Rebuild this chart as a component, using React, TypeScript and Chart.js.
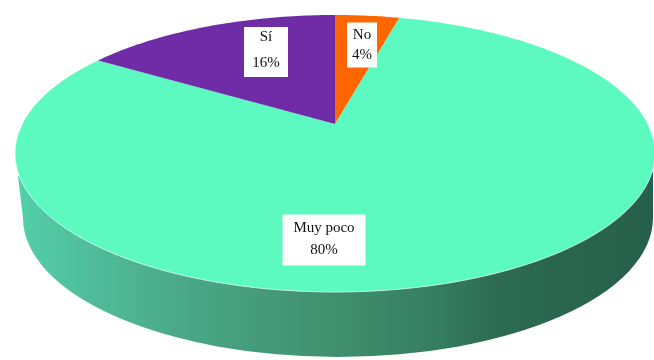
import React, { useEffect, useRef } from "react";
import { Chart, registerables } from "chart.js";

Chart.register(...registerables);

const categories = ["No", "Muy poco", "Sí"];
const shares = [4, 80, 16];
const sliceColors = ["#ff6600", "#5cf9c1", "#6f2ca6"];

// Perspective model of the tilted disc, in canvas pixels.
const APEX_X = 335;
const APEX_Y = 124;
const SPREAD_X = 312.6;
const SPREAD_Y = 132.2;
const TILT = 0.213;

// Front wall of the disc.
const FLOOR = { cx: 338, cy: 218, rx: 315, ry: 139 };
const WALL_STOPS: [number, string][] = [
  [0, "#52d0aa"],
  [0.13, "#50bb98"],
  [0.29, "#48a585"],
  [0.495, "#40906f"],
  [0.65, "#367f63"],
  [0.76, "#2c6a52"],
  [1, "#27604a"],
];

// Caption boxes: centre, size, line spacing and text offset from the centre.
const CAPTIONS = [
  { x: 362, y: 45, w: 30, h: 45, gap: 20, dy: 0 },
  { x: 324, y: 240, w: 83, h: 51, gap: 22, dy: -1 },
  { x: 266, y: 52, w: 44, h: 50, gap: 26, dy: -2 },
];

function project(u: number, v: number) {
  const d = 1 + TILT * v;
  return { x: APEX_X + (SPREAD_X * u) / d, y: APEX_Y - (SPREAD_Y * v) / d };
}

const tiltedPie = {
  id: "tiltedPie",
  beforeDatasetDraw(chart: any, args: any) {
    const ctx = chart.ctx as CanvasRenderingContext2D;
    const arcs = args.meta.data;

    // Wall: the floor ellipse plus the band joining it to the disc's widest points.
    const wall = ctx.createLinearGradient(15, 0, 653, 0);
    WALL_STOPS.forEach(([at, color]) => wall.addColorStop(at, color));
    ctx.save();
    ctx.fillStyle = wall;
    ctx.beginPath();
    ctx.moveTo(18, 176);
    ctx.lineTo(FLOOR.cx - FLOOR.rx, FLOOR.cy);
    ctx.ellipse(FLOOR.cx, FLOOR.cy, FLOOR.rx, FLOOR.ry, 0, Math.PI, 0, true);
    ctx.lineTo(653, 172);
    ctx.closePath();
    ctx.fill();

    // Top face: each slice follows its arc's angles through the perspective map.
    arcs.forEach((arc: any) => {
      ctx.beginPath();
      ctx.moveTo(APEX_X, APEX_Y);
      const steps = Math.max(8, Math.ceil((arc.endAngle - arc.startAngle) * 60));
      for (let i = 0; i <= steps; i++) {
        const a = arc.startAngle + ((arc.endAngle - arc.startAngle) * i) / steps;
        const p = project(Math.cos(a), -Math.sin(a));
        ctx.lineTo(p.x, p.y);
      }
      ctx.closePath();
      ctx.fillStyle = arc.options.backgroundColor;
      ctx.fill();
    });

    // Pale highlight along the front rim.
    ctx.beginPath();
    for (let i = 0; i <= 180; i++) {
      const a = (Math.PI * i) / 180;
      const p = project(Math.cos(a), -Math.sin(a));
      if (i === 0) ctx.moveTo(p.x, p.y);
      else ctx.lineTo(p.x, p.y);
    }
    ctx.strokeStyle = "rgba(215,255,242,0.85)";
    ctx.lineWidth = 1;
    ctx.stroke();
    ctx.restore();
    return false;
  },
  afterDatasetsDraw(chart: any) {
    const ctx = chart.ctx as CanvasRenderingContext2D;
    ctx.save();
    ctx.textAlign = "center";
    ctx.textBaseline = "middle";
    ctx.font = "15px 'Liberation Serif'";
    CAPTIONS.forEach((box, i) => {
      ctx.fillStyle = "#ffffff";
      ctx.fillRect(box.x - box.w / 2, box.y - box.h / 2, box.w, box.h);
      ctx.fillStyle = "#111111";
      ctx.fillText(categories[i], box.x, box.y + box.dy - box.gap / 2);
      ctx.fillText(`${shares[i]}%`, box.x, box.y + box.dy + box.gap / 2);
    });
    ctx.restore();
  },
};

export default function App() {
  const ref = useRef<HTMLCanvasElement>(null);

  useEffect(() => {
    const chart = new Chart(ref.current!, {
      type: "pie",
      data: {
        labels: categories,
        datasets: [{ data: shares, backgroundColor: sliceColors, borderWidth: 0 }],
      },
      options: {
        responsive: false,
        animation: false,
        plugins: { legend: { display: false }, tooltip: { enabled: false } },
      },
      plugins: [tiltedPie],
    });
    return () => chart.destroy();
  }, []);

  return (
    <div style={{ position: "absolute", left: 0, top: 0, width: 654, height: 360, background: "#fff" }}>
      <canvas ref={ref} width={654} height={360} style={{ display: "block" }} />
    </div>
  );
}
